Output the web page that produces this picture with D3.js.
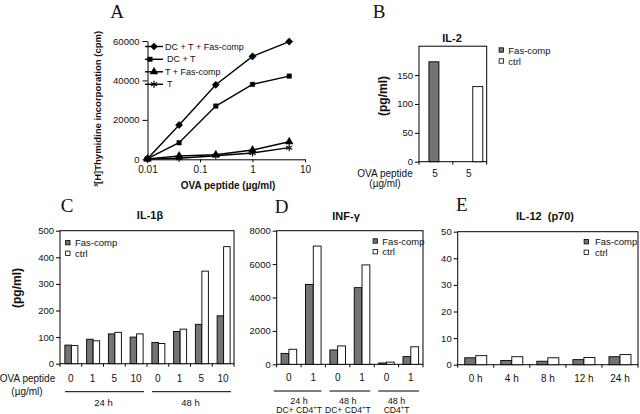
<!DOCTYPE html>
<html><head><meta charset="utf-8">
<script src="https://cdn.jsdelivr.net/npm/d3@7"></script>
<style>
body{margin:0;background:#fff}
svg{display:block}
text{font-family:"Liberation Sans",Arial,Helvetica,sans-serif;fill:#111}
</style>
</head><body>
<svg id="c" width="640" height="414"></svg>
<script>
// ---------- DATA ----------
// Panel A
const aDoses = [0.01, 0.04, 0.2, 1, 5];
const aSeriesNames = ["DC + T + Fas-comp", "DC + T", "T + Fas-comp", "T"];
const aDcTFas = [300, 17400, 37800, 52200, 59700];
const aDcT = [300, 8400, 27000, 38000, 42200];
const aTFas = [200, 1700, 2300, 4700, 8900];
const aT = [100, 500, 1800, 3200, 5900];
const aXTicks = [0.01, 0.1, 1, 10];
const aXTickLabels = ["0.01", "0.1", "1", "10"];
const aYTicks = [0, 20000, 40000, 60000];
// Panel B
const bSeries = ["Fas-comp", "ctrl"];
const bCats = ["5", "5"];
const bValues = [173, 130];
const bYTicks = [0, 50, 100, 150];
// Panel C
const cDoses = ["0", "1", "5", "10", "0", "1", "5", "10"];
const cGroups = ["24 h", "48 h"];
const cFas = [70, 92, 112, 100, 80, 121, 148, 180];
const cCtrl = [68, 86, 118, 112, 76, 130, 348, 440];
const cYTicks = [0, 100, 200, 300, 400, 500];
// Panel D
const dDoses = ["0", "1", "0", "1", "0", "1"];
const dGroupTimes = ["24 h", "48 h", "48 h"];
const dGroupCells = ["DC+ CD4", "DC+ CD4", "CD4"];
const dFas = [650, 4780, 860, 4590, 80, 460];
const dCtrl = [900, 7080, 1100, 5950, 130, 1050];
const dYTicks = [0, 2000, 4000, 6000, 8000];
// Panel E
const eTimes = ["0 h", "4 h", "8 h", "12 h", "24 h"];
const eFas = [2.6, 1.6, 1.3, 1.9, 3.0];
const eCtrl = [3.4, 3.0, 2.6, 2.7, 3.8];
const eYTicks = [0, 10, 20, 30, 40, 50];

// ---------- STYLE ----------
const FAS_FILL = "#747474";
const SERIF = '"Liberation Serif","Times New Roman",serif';
const SANS = '"Liberation Sans",Arial,sans-serif';
const svg = d3.select("#c");

function text(x, y, s, o = {}) {
  const t = svg.append("text").attr("x", x).attr("y", y)
    .attr("text-anchor", o.anchor || "middle")
    .attr("dominant-baseline", "central")
    .style("font-size", (o.size || 9.5) + "px")
    .style("white-space", "pre")
    .text(s);
  if (o.bold) t.style("font-weight", "bold");
  if (o.family) t.style("font-family", o.family);
  if (o.rotate) t.attr("transform", `rotate(-90,${x},${y})`);
  return t;
}
function letter(x, y, s) { text(x, y, s, { size: 19, family: SERIF }); }

function legendSquares(x, ys, tx) {
  const fills = [FAS_FILL, "#fff"];
  bSeries.forEach((name, i) => {
    svg.append("rect").attr("x", x - 2.2).attr("y", ys[i] - 2.2)
      .attr("width", 4.4).attr("height", 4.4)
      .attr("fill", fills[i]).attr("stroke", "#000").attr("stroke-width", 0.8);
    text(tx, ys[i], name, { anchor: "start", size: 9.5 });
  });
}

function yAxis(y, left, ticks, size) {
  const g = svg.append("g").attr("transform", `translate(${left},0)`)
    .call(d3.axisLeft(y).tickValues(ticks).tickFormat(d3.format("d")).tickSize(size).tickPadding(2).tickSizeOuter(0));
  g.select(".domain").remove();
  g.selectAll("text").style("font-size", "9.5px").style("font-family", SANS);
  g.selectAll("line").attr("stroke", "#000");
  return g;
}

function barPanel(p) {
  const n = p.labels.length;
  const xb = d3.scaleBand().domain(d3.range(n)).range([p.left, p.right]);
  const y = d3.scaleLinear().domain([0, p.yMax]).range([p.bottom, p.top]);
  svg.append("rect").attr("x", p.left).attr("y", p.top)
    .attr("width", p.right - p.left).attr("height", p.bottom - p.top)
    .attr("fill", "none").attr("stroke", "#000").attr("stroke-width", 1);
  const bw = p.bw;
  const bars = [];
  d3.range(n).forEach(i => {
    const c = xb(i) + xb.bandwidth() / 2 + (p.shift || 0);
    if (p.fas[i] != null) bars.push({ x: c - bw, v: p.fas[i], f: FAS_FILL });
    if (p.ctrl[i] != null) bars.push({ x: c, v: p.ctrl[i], f: "#fff" });
  });
  svg.append("g").selectAll("rect").data(bars).join("rect")
    .attr("x", d => d.x).attr("width", bw)
    .attr("y", d => y(d.v)).attr("height", d => p.bottom - y(d.v))
    .attr("fill", d => d.f).attr("stroke", "#000").attr("stroke-width", 0.9);
  yAxis(y, p.left, p.yTicks, 4);
  const bnds = d3.range(n + 1).map(i => p.left + i * xb.bandwidth());
  svg.append("g").selectAll("line").data(bnds).join("line")
    .attr("x1", d => d).attr("x2", d => d).attr("y1", p.bottom).attr("y2", p.bottom + 3)
    .attr("stroke", "#000");
  p.labels.forEach((s, i) => text(xb(i) + xb.bandwidth() / 2 + (p.labelShift || 0), p.labelY, s, { size: 10 }));
  return { xb, y };
}

// ---------- PANEL A ----------
(function () {
  const x = d3.scaleLog().domain([0.01, 10]).range([147.5, 305]);
  const y = d3.scaleLinear().domain([0, 60000]).range([159.3, 41]);
  const gx = svg.append("g").attr("transform", "translate(0,159.3)")
    .call(d3.axisBottom(x).tickValues(aXTicks).tickFormat((d, i) => aXTickLabels[i])
      .tickSize(3).tickPadding(4).tickSizeOuter(0));
  gx.selectAll("text").style("font-size", "10px").style("font-family", SANS);
  const gy = svg.append("g").attr("transform", "translate(147.5,0)")
    .call(d3.axisLeft(y).tickValues(aYTicks).tickFormat(d3.format("d")).tickSize(5).tickPadding(3).tickSizeOuter(0));
  gy.selectAll("text").style("font-size", "9.5px").style("font-family", SANS);
  svg.selectAll(".domain").attr("stroke", "#000");

  const series = [aDcTFas, aDcT, aTFas, aT];
  const shapes = [
    { t: d3.symbolSquare, s: 26, r: 45, fill: "#000" },
    { t: d3.symbolSquare, s: 20, r: 0, fill: "#000" },
    { t: d3.symbolTriangle, s: 26, r: 0, fill: "#000" },
    { t: d3.symbolAsterisk, s: 36, r: 0, fill: "none" }
  ];
  const line = d3.line().x((d, i) => x(aDoses[i])).y(d => y(d));
  series.forEach((vals, k) => {
    svg.append("path").attr("d", line(vals)).attr("fill", "none")
      .attr("stroke", "#000").attr("stroke-width", 1.4);
    const sh = shapes[k];
    svg.append("g").selectAll("path").data(vals).join("path")
      .attr("d", d3.symbol(sh.t, sh.s))
      .attr("transform", (d, i) => `translate(${x(aDoses[i])},${y(d)}) rotate(${sh.r})`)
      .attr("fill", sh.fill).attr("stroke", "#000").attr("stroke-width", sh.fill === "none" ? 1.1 : 0.5);
  });
  const ly = [46.5, 59.3, 71.8, 84.3];
  aSeriesNames.forEach((name, k) => {
    svg.append("line").attr("x1", 145).attr("x2", 163).attr("y1", ly[k]).attr("y2", ly[k])
      .attr("stroke", "#000").attr("stroke-width", 1.4);
    const sh = shapes[k];
    svg.append("path").attr("d", d3.symbol(sh.t, sh.s)())
      .attr("transform", `translate(${k === 1 ? 150 : 154},${ly[k]}) rotate(${sh.r})`)
      .attr("fill", sh.fill).attr("stroke", "#000").attr("stroke-width", sh.fill === "none" ? 1.1 : 0.5);
    text(k === 1 || k === 3 ? 167 : 165, ly[k], name, { anchor: "start", size: 9 });
  });
  letter(117, 11, "A");
  text(97.5, 109, "\u00B3[H]Thymidine incorporation (cpm)", { bold: true, size: 9.5, rotate: true });
  text(228, 185, "OVA peptide (\u00B5g/ml)", { bold: true, size: 10 });
})();

// ---------- PANEL B ----------
(function () {
  barPanel({
    left: 419, right: 486.7, top: 46.2, bottom: 161.7, yMax: 200, yTicks: bYTicks,
    labels: bCats, fas: [bValues[0], null], ctrl: [null, bValues[1]], bw: 10,
    labelY: 173.3, shift: 3, labelShift: -1
  });
  letter(379, 11, "B");
  text(452, 37.5, "IL-2", { bold: true, size: 11 });
  text(382.5, 96, "(pg/ml)", { bold: true, size: 12, rotate: true });
  text(385, 173, "OVA peptide", { size: 10 });
  text(385, 183.5, "(\u00B5g/ml)", { size: 10 });
  legendSquares(501.3, [50, 61], 508.3);
})();

// ---------- PANEL C ----------
(function () {
  const p = barPanel({
    left: 60, right: 234, top: 230.7, bottom: 363.7, yMax: 500, yTicks: cYTicks,
    labels: cDoses, fas: cFas, ctrl: cCtrl, bw: 6.5, labelY: 378.3, shift: 0.5
  });
  const bw = p.xb.bandwidth();
  cGroups.forEach((g, j) => {
    const x0 = 60 + j * 4 * bw, x1 = x0 + 4 * bw;
    svg.append("line").attr("x1", x0 + 5).attr("x2", x1 - 3).attr("y1", 391.7).attr("y2", 391.7)
      .attr("stroke", "#000").attr("stroke-width", 1);
    text((x0 + x1) / 2, 402.3, g, { size: 9.5 });
  });
  letter(67, 205, "C");
  text(150, 214.5, "IL-1\u03B2", { bold: true, size: 11 });
  text(16.7, 288, "(pg/ml)", { bold: true, size: 12, rotate: true });
  text(27.5, 378.3, "OVA peptide", { size: 10 });
  text(27, 391.7, "(\u00B5g/ml)", { size: 10 });
  legendSquares(67.8, [242.7, 253.3], 75);
})();

// ---------- PANEL D ----------
(function () {
  const p = barPanel({
    left: 276.7, right: 423, top: 230.7, bottom: 364.3, yMax: 8000, yTicks: dYTicks,
    labels: dDoses, fas: dFas, ctrl: dCtrl, bw: 7.8, labelY: 377.7
  });
  const bw = p.xb.bandwidth();
  dGroupTimes.forEach((g, j) => {
    const x0 = 276.7 + j * 2 * bw, x1 = x0 + 2 * bw;
    const cx = (x0 + x1) / 2 - 2;
    svg.append("line").attr("x1", x0 + (j === 0 ? -3 : 4)).attr("x2", x1 - 4).attr("y1", 391).attr("y2", 391)
      .attr("stroke", "#000").attr("stroke-width", 1);
    text(cx, 400.7, g, { size: 9 });
    const t = svg.append("text").attr("x", cx).attr("y", 410.3)
      .attr("text-anchor", "middle").attr("dominant-baseline", "central")
      .style("font-size", "8.6px");
    t.append("tspan").text(dGroupCells[j]);
    t.append("tspan").attr("dy", -3).style("font-size", "6px").text("+");
    t.append("tspan").attr("dy", 3).text("T");
  });
  letter(281.7, 206, "D");
  text(346, 216, "INF-\u03B3", { bold: true, size: 11 });
  legendSquares(375.3, [241, 251.7], 382.3);
})();

// ---------- PANEL E ----------
(function () {
  barPanel({
    left: 457.7, right: 638, top: 231.7, bottom: 364.7, yMax: 50, yTicks: eYTicks,
    labels: eTimes, fas: eFas, ctrl: eCtrl, bw: 11, labelY: 378
  });
  letter(461.7, 204.5, "E");
  text(545, 216, "IL-12  (p70)", { bold: true, size: 11 });
  legendSquares(586.3, [241.7, 252.3], 595);
})();
</script>
</body></html>
